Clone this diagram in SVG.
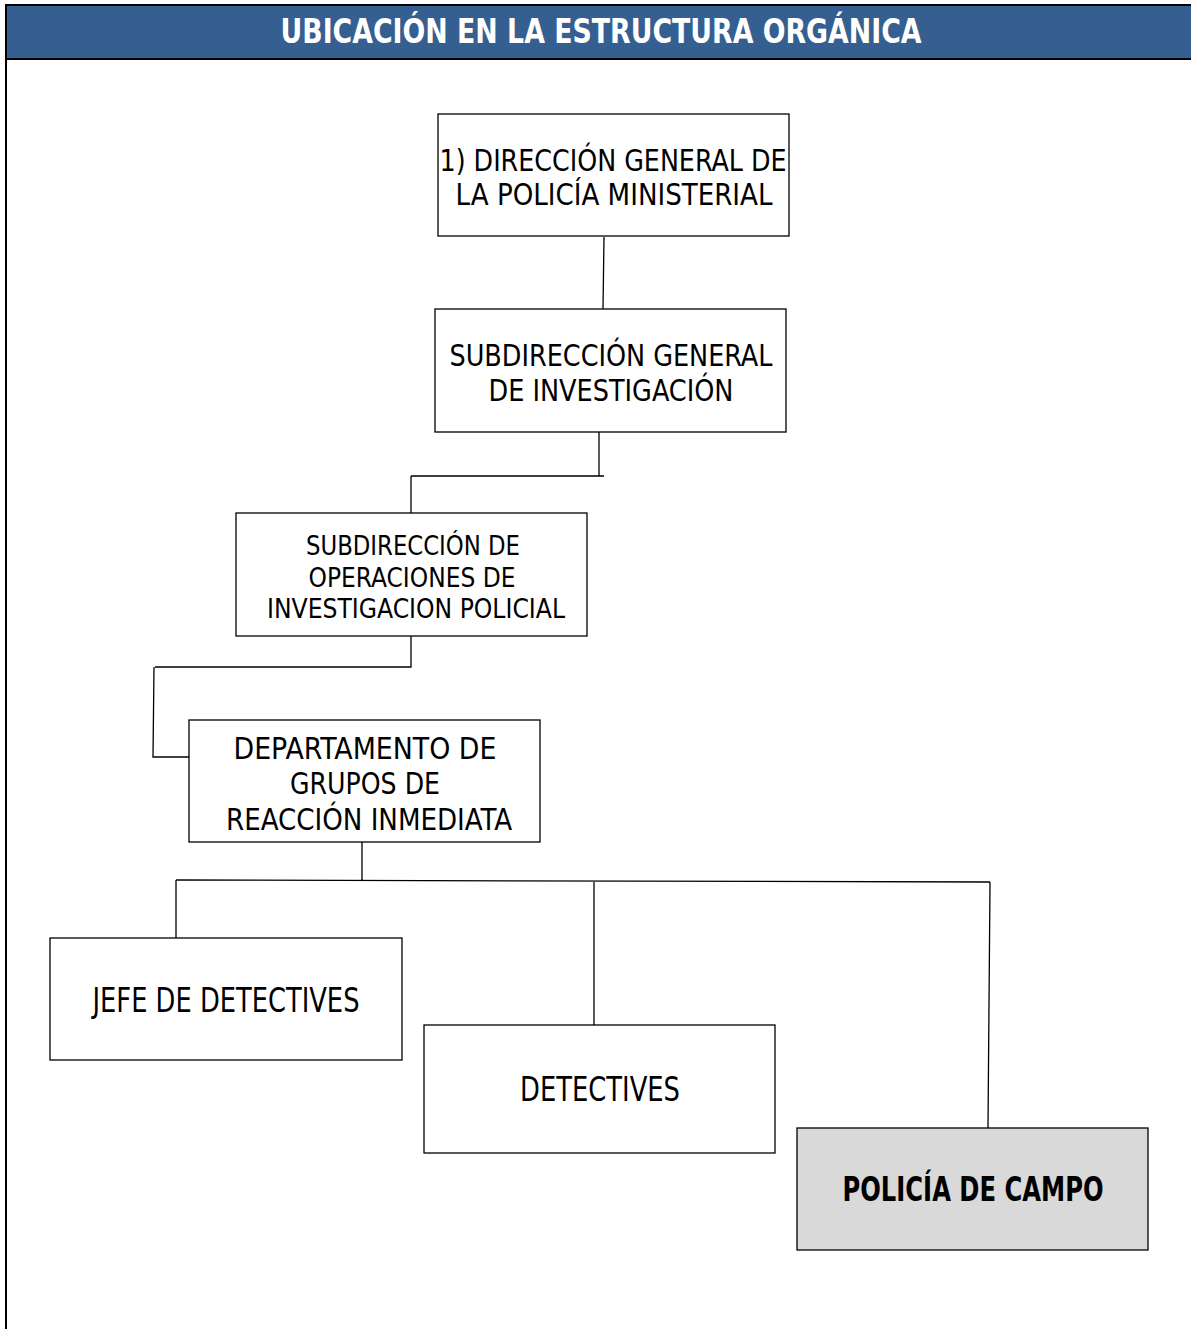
<svg xmlns="http://www.w3.org/2000/svg" width="1191" height="1329" viewBox="0 0 1191 1329">
  <style>
    .box { fill: #ffffff; stroke: #000000; stroke-width: 1.3; }
    .box.hl { fill: #d9d9d9; }
    .lbl { font-family: "DejaVu Sans Condensed", "DejaVu Sans", "Liberation Sans", sans-serif; font-size: 30px; fill: #000000; text-anchor: middle; }
    .lbl.sm { font-size: 27px; }
    .lbl.one { font-size: 33px; }
    .lbl.b { font-weight: bold; }
    .conn { fill: none; stroke: #000000; stroke-width: 1.3; }
    .title { font-family: "DejaVu Sans Condensed", "DejaVu Sans", "Liberation Sans", sans-serif; font-size: 34px; font-weight: bold; fill: #ffffff; text-anchor: middle; }
  </style>

  <rect width="1191" height="1329" fill="#ffffff"/>

  <!-- page frame and title band -->
  <g id="header">
    <rect x="6" y="5" width="1190" height="54" fill="#365f91" stroke="#000000" stroke-width="2"/>
    <line x1="6" y1="59" x2="6" y2="1329" stroke="#000000" stroke-width="2"/>
    <text class="title" x="601" y="43" textLength="641" lengthAdjust="spacingAndGlyphs">UBICACIÓN EN LA ESTRUCTURA ORGÁNICA</text>
  </g>

  <!-- connectors -->
  <g id="connectors">
    <path class="conn" d="M604,237 L603,309"/>
    <path class="conn" d="M599,432 L599,476 M411,476 L604,476 M411,476 L411,513"/>
    <path class="conn" d="M411,636 L411,667 L155,667 M154,667 L153,757 L189,757"/>
    <path class="conn" d="M362,842 L362,880 M176,880 L990,882 M176,880 L176,938 M594,882 L594,1025 M990,882 L988,1128"/>
  </g>

  <g id="node-direccion-general">
    <rect class="box" x="438" y="114" width="351" height="122"/>
    <text class="lbl" x="613" y="171" textLength="347" lengthAdjust="spacingAndGlyphs">1) DIRECCIÓN GENERAL DE</text>
    <text class="lbl" x="614" y="205" textLength="317" lengthAdjust="spacingAndGlyphs">LA POLICÍA MINISTERIAL</text>
  </g>

  <g id="node-subdireccion-general">
    <rect class="box" x="435" y="309" width="351" height="123"/>
    <text class="lbl" x="611" y="366" textLength="323" lengthAdjust="spacingAndGlyphs">SUBDIRECCIÓN GENERAL</text>
    <text class="lbl" x="611" y="401" textLength="245" lengthAdjust="spacingAndGlyphs">DE INVESTIGACIÓN</text>
  </g>

  <g id="node-subdireccion-operaciones">
    <rect class="box" x="236" y="513" width="351" height="123"/>
    <text class="lbl sm" x="413" y="555" textLength="214" lengthAdjust="spacingAndGlyphs">SUBDIRECCIÓN DE</text>
    <text class="lbl sm" x="412" y="587" textLength="207" lengthAdjust="spacingAndGlyphs">OPERACIONES DE</text>
    <text class="lbl sm" x="416" y="618" textLength="298" lengthAdjust="spacingAndGlyphs">INVESTIGACION POLICIAL</text>
  </g>

  <g id="node-departamento">
    <rect class="box" x="189" y="720" width="351" height="122"/>
    <text class="lbl" x="365" y="759" textLength="263" lengthAdjust="spacingAndGlyphs">DEPARTAMENTO DE</text>
    <text class="lbl" x="365" y="794" textLength="150" lengthAdjust="spacingAndGlyphs">GRUPOS DE</text>
    <text class="lbl" x="369" y="830" textLength="286" lengthAdjust="spacingAndGlyphs">REACCIÓN INMEDIATA</text>
  </g>

  <g id="node-jefe-detectives">
    <rect class="box" x="50" y="938" width="352" height="122"/>
    <text class="lbl one" x="226" y="1012" textLength="267" lengthAdjust="spacingAndGlyphs">JEFE DE DETECTIVES</text>
  </g>

  <g id="node-detectives">
    <rect class="box" x="424" y="1025" width="351" height="128"/>
    <text class="lbl one" x="600" y="1101" textLength="160" lengthAdjust="spacingAndGlyphs">DETECTIVES</text>
  </g>

  <g id="node-policia-campo">
    <rect class="box hl" x="797" y="1128" width="351" height="122"/>
    <text class="lbl one b" x="973" y="1201" textLength="261" lengthAdjust="spacingAndGlyphs">POLICÍA DE CAMPO</text>
  </g>
</svg>
